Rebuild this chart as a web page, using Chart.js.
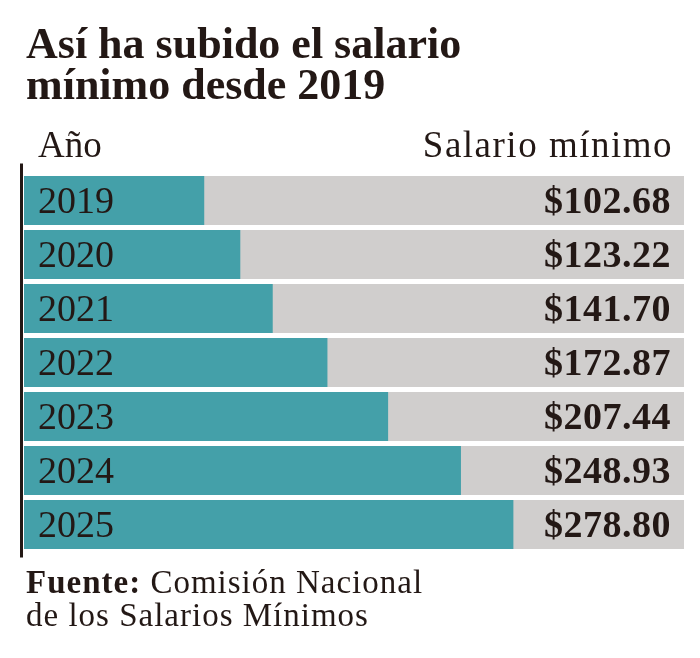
<!DOCTYPE html>
<html>
<head>
<meta charset="utf-8">
<script src="https://cdn.jsdelivr.net/npm/chart.js@4"></script>
<style>
  html, body { margin: 0; padding: 0; background: #fff; }
  #wrap { position: relative; width: 700px; height: 658px; }
</style>
</head>
<body>
<div id="wrap"><canvas id="salarioChart" width="700" height="658"></canvas></div>
<script>
const anios = ["2019", "2020", "2021", "2022", "2023", "2024", "2025"];
const salarios = [102.68, 123.22, 141.70, 172.87, 207.44, 248.93, 278.80];
const escalaMax = 376;

const tinta = "#231815";
const serif = "'Liberation Serif', 'Times New Roman', serif";

// textos, eje izquierdo y etiquetas de cada barra
const rotulos = {
    id: "rotulos",
    afterDatasetsDraw(chart) {
        const ctx = chart.ctx;
        const area = chart.chartArea;
        const y = chart.scales.y;
        ctx.save();
        ctx.fillStyle = tinta;
        ctx.textBaseline = "alphabetic";

        ctx.font = "bold 44px " + serif;
        ctx.textAlign = "left";
        ctx.fillText("Así ha subido el salario", 26, 58);
        ctx.fillText("mínimo desde 2019", 26, 99);

        ctx.font = "37px " + serif;
        ctx.fillText("Año", 38, 157);
        ctx.textAlign = "right";
        ctx.letterSpacing = "1.5px";
        ctx.fillText("Salario mínimo", 673, 157);
        ctx.letterSpacing = "0px";

        ctx.fillRect(area.left - 4, area.top - 10, 3, area.bottom - area.top + 16);

        anios.forEach((anio, i) => {
            const cy = y.getPixelForValue(i);
            ctx.textAlign = "left";
            ctx.font = "38px " + serif;
            ctx.fillText(anio, 38, cy + 12);
            ctx.textAlign = "right";
            ctx.font = "bold 38px " + serif;
            ctx.letterSpacing = "0.5px";
            ctx.fillText("$" + salarios[i].toFixed(2), 671, cy + 12);
            ctx.letterSpacing = "0px";
        });

        ctx.textAlign = "left";
        ctx.letterSpacing = "1px";
        ctx.font = "bold 33px " + serif;
        ctx.fillText("Fuente:", 26, 593);
        const w = ctx.measureText("Fuente: ").width;
        ctx.font = "33px " + serif;
        ctx.fillText("Comisión Nacional", 26 + w, 593);
        ctx.fillText("de los Salarios Mínimos", 26, 626);
        ctx.restore();
    }
};

new Chart(document.getElementById("salarioChart"), {
    type: "bar",
    data: {
        labels: anios,
        datasets: [
            {
                label: "Salario mínimo",
                data: salarios,
                backgroundColor: "#44a0a9",
                order: 0
            },
            {
                label: "fondo",
                data: anios.map(() => escalaMax),
                backgroundColor: "#d0cecd",
                order: 1
            }
        ]
    },
    options: {
        indexAxis: "y",
        responsive: false,
        animation: false,
        layout: { padding: { top: 173.5, bottom: 106.5, left: 24, right: 16 } },
        datasets: { bar: { grouped: false, barPercentage: 0.907, categoryPercentage: 1, borderWidth: 0 } },
        scales: {
            x: { display: false, min: 0, max: escalaMax },
            y: { display: false }
        },
        plugins: { legend: { display: false }, tooltip: { enabled: false } }
    },
    plugins: [rotulos]
});
</script>
</body>
</html>
